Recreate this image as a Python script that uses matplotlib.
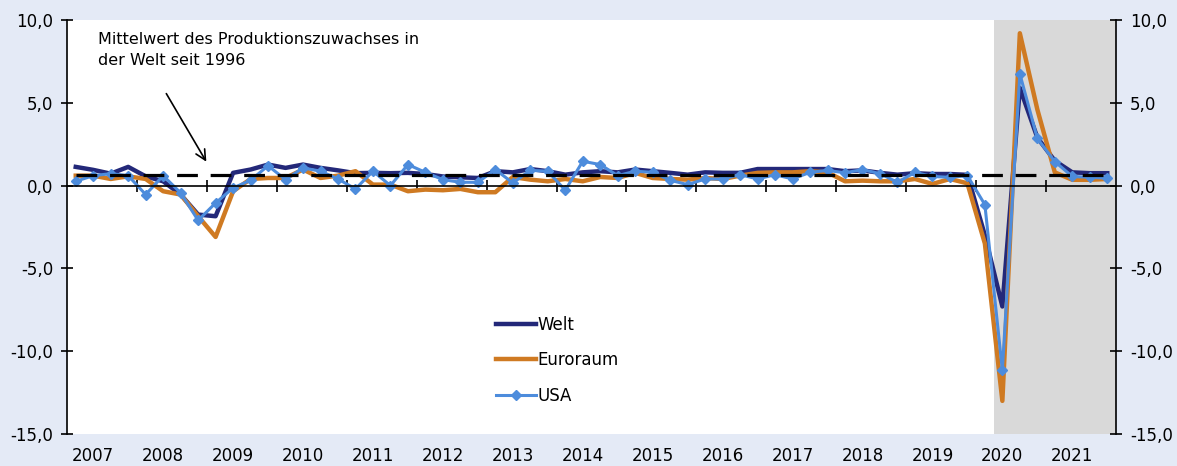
import matplotlib
matplotlib.use('Agg')
import matplotlib.pyplot as plt
import matplotlib.transforms as mtransforms
from matplotlib.ticker import FuncFormatter
import numpy as np

plt.rcParams['font.family'] = ['Liberation Sans Narrow', 'DejaVu Sans']

# ----------------------------------------------------------------- data
years = ['2007', '2008', '2009', '2010', '2011', '2012', '2013', '2014',
         '2015', '2016', '2017', '2018', '2019', '2020', '2021']

# quarterly production growth, 2007Q1 .. 2021Q4 (%)
welt = [1.13, 0.95, 0.72, 1.13, 0.56, 0.26, -0.54, -1.75, -1.85, 0.77,
        0.97, 1.27, 1.07, 1.27, 1.07, 0.92, 0.75, 0.77, 0.75, 0.77,
        0.70, 0.55, 0.50, 0.46, 0.87, 0.80, 1.00, 0.87, 0.66, 0.80,
        0.87, 0.80, 0.97, 0.87, 0.77, 0.66, 0.80, 0.77, 0.77, 1.00,
        1.00, 1.00, 1.00, 1.00, 0.87, 0.92, 0.77, 0.66, 0.75, 0.70,
        0.70, 0.65, -3.00, -7.30, 5.90, 2.90, 1.50, 0.80, 0.75, 0.75]

euroraum = [0.60, 0.60, 0.40, 0.56, 0.40, -0.34, -0.54, -1.85, -3.10, -0.34,
            0.40, 0.46, 0.46, 0.97, 0.46, 0.60, 0.87, 0.06, 0.06, -0.34,
            -0.24, -0.28, -0.20, -0.40, -0.40, 0.52, 0.36, 0.26, 0.40, 0.26,
            0.52, 0.46, 0.77, 0.46, 0.40, 0.36, 0.46, 0.40, 0.60, 0.77,
            0.80, 0.80, 0.87, 0.80, 0.26, 0.30, 0.26, 0.26, 0.40, 0.10,
            0.40, 0.14, -3.50, -13.00, 9.20, 4.60, 0.80, 0.35, 0.35, 0.40]

usa = [0.26, 0.60, 0.72, 0.60, -0.54, 0.60, -0.44, -2.10, -1.05, -0.14,
       0.32, 1.20, 0.36, 1.07, 0.87, 0.40, -0.20, 0.87, 0.00, 1.27,
       0.80, 0.36, 0.20, 0.20, 0.97, 0.16, 0.92, 0.87, -0.28, 1.47,
       1.27, 0.60, 0.87, 0.80, 0.32, 0.06, 0.40, 0.40, 0.66, 0.40,
       0.66, 0.40, 0.80, 0.92, 0.77, 0.97, 0.72, 0.20, 0.80, 0.55,
       0.50, 0.60, -1.15, -11.15, 6.75, 2.85, 1.45, 0.55, 0.50, 0.45]

mittelwert = 0.66   # world average since 1996
shade_from = 52.5   # shaded period starts after 2020Q1

# ----------------------------------------------------------------- colours
bg = '#E4EAF6'
c_welt = '#232879'
c_euro = '#CF7A22'
c_usa = '#4D8CDC'

fig = plt.figure(figsize=(11.77, 4.66), dpi=100, facecolor=bg)
ax = fig.add_axes([67 / 1177, 32 / 466, 1049 / 1177, 414 / 466])
ax.set_facecolor('white')

x = np.arange(len(welt))
n = len(x)

ax.axvspan(shade_from, n - 0.5, color='#D9D9D9', lw=0, zorder=0)

ax.plot(x, welt, color=c_welt, lw=3.2, label='Welt', zorder=3)
ax.plot(x, euroraum, color=c_euro, lw=3.2, label='Euroraum', zorder=4)
ax.plot(x, usa, color=c_usa, lw=2.2, marker='D', ms=5.5, label='USA', zorder=5)
ax.plot(x, np.full(n, mittelwert), color='black', lw=2.3, dashes=(6.5, 4),
        zorder=6)

ax.set_xlim(-0.5, n - 0.5)
ax.set_ylim(-15, 10)

# axes / spines
ax.spines['top'].set_visible(False)
ax.spines['bottom'].set_position(('data', 0))
for s in ['left', 'right', 'bottom']:
    ax.spines[s].set_linewidth(1.2)
    ax.spines[s].set_zorder(7)

ax.set_xticks(np.arange(3.5, n - 1, 4))
ax.tick_params(axis='x', direction='inout', length=8, width=1.2,
               labelbottom=False)
ax.set_yticks(np.arange(-15, 10.1, 5))
ax.yaxis.set_major_formatter(FuncFormatter(lambda v, p: f'{v:.1f}'.replace('.', ',')))
ax.tick_params(axis='y', direction='inout', length=8, width=1.2,
               left=True, right=True, labelleft=True, labelright=True,
               labelsize=12, pad=6)

trans = mtransforms.blended_transform_factory(ax.transData, ax.transAxes)
for k, yr in enumerate(years):
    ax.text(4 * k + 1, -0.052, yr, transform=trans, ha='center', va='center',
            fontsize=12)

ax.text(1.3, 9.3, 'Mittelwert des Produktionszuwachses in\nder Welt seit 1996',
        ha='left', va='top', fontsize=11.5, linespacing=1.5)
ax.annotate('', xy=(7.55, 1.3), xytext=(5.1, 5.7),
            arrowprops=dict(arrowstyle='->', color='black', lw=1.2,
                            mutation_scale=18))

leg = ax.legend(loc='upper left', bbox_to_anchor=(0.395, 0.322), frameon=False,
                fontsize=12, handlelength=2.35, handletextpad=0.1,
                labelspacing=1.05)

fig.savefig('out.png', dpi=100, facecolor=bg)
